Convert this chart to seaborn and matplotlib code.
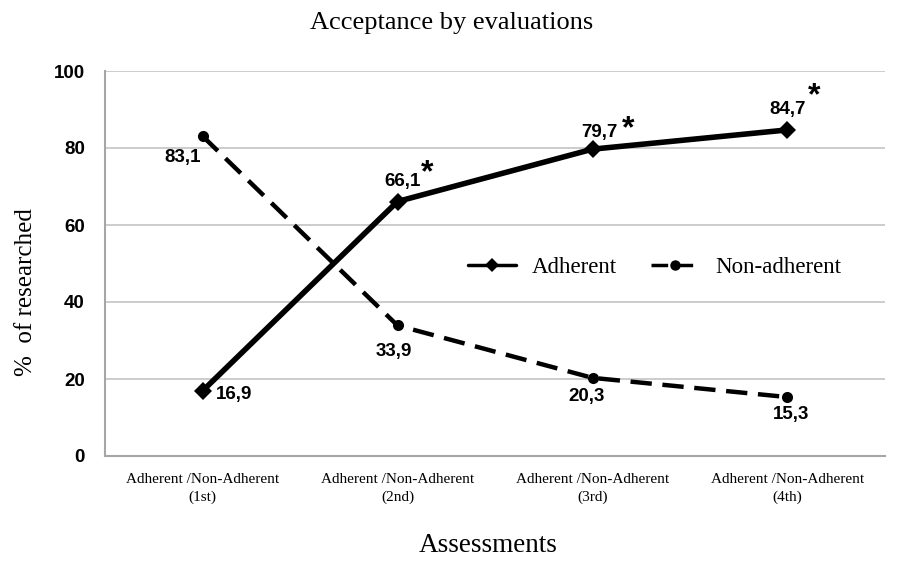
import pandas as pd
import seaborn as sns
import matplotlib.pyplot as plt


# -----------------------------
# DATA
# -----------------------------
assessments = [
    "Adherent /Non-Adherent\n(1st)",
    "Adherent /Non-Adherent\n(2nd)",
    "Adherent /Non-Adherent\n(3rd)",
    "Adherent /Non-Adherent\n(4th)",
]
adherent = [16.9, 66.1, 79.7, 84.7]
non_adherent = [83.1, 33.9, 20.3, 15.3]
significant = [False, True, True, True]

df = pd.DataFrame({
    "assessment": assessments * 2,
    "pct": adherent + non_adherent,
    "group": ["Adherent"] * 4 + ["Non-adherent"] * 4,
})

SERIF = "Liberation Serif"
SANS = "Liberation Sans"

# -----------------------------
# FIGURE
# -----------------------------
sns.set_style("white")
plt.rcParams["font.family"] = [SANS, "DejaVu Sans"]
plt.rcParams["text.color"] = "black"

fig = plt.figure(figsize=(9.07, 5.61), dpi=100)
ax = fig.add_axes([105 / 907, 1 - 456 / 561, 780 / 907, 385 / 561])

sns.lineplot(data=df[df.group == "Adherent"], x="assessment", y="pct",
             color="black", linewidth=4, marker="D", markersize=9,
             markeredgewidth=0, sort=False, label="Adherent", ax=ax)
sns.lineplot(data=df[df.group == "Non-adherent"], x="assessment", y="pct",
             color="black", linewidth=3.2, marker="o", markersize=8,
             markeredgewidth=0, sort=False, label="Non-adherent",
             dashes=False, ax=ax)
ax.lines[1].set_dashes((4.8, 2.4))
ax.lines[1].set_dash_capstyle("butt")

# axes styling
ax.set_xlim(-0.5, 3.5)
ax.set_ylim(0, 100)
ax.set_yticks(range(0, 101, 20))
ax.yaxis.grid(True, color="#c4c4c4", linewidth=1.2)
ax.set_axisbelow(True)
for side in ["top", "right"]:
    ax.spines[side].set_visible(False)
for side in ["left", "bottom"]:
    ax.spines[side].set_color("#a6a6a6")
    ax.spines[side].set_linewidth(1.5)

ax.tick_params(axis="y", length=4.5, width=1.2, color="#a6a6a6", pad=10,
               labelsize=13.5, labelcolor="black")
for lab in ax.get_yticklabels():
    lab.set_fontweight("bold")

ax.set_xticks(range(len(assessments)))
ax.set_xticklabels(assessments, fontfamily=SERIF, fontsize=11,
                   linespacing=1.45)
ax.set_xticks([i - 0.5 for i in range(len(assessments) + 1)], minor=True)
ax.tick_params(axis="x", which="major", length=0, pad=12,
               labelcolor="black")
ax.tick_params(axis="x", which="minor", length=3.5, width=1.2,
               color="#a6a6a6")
ax.set_xlabel("")
ax.set_ylabel("")

# -----------------------------
# DATA LABELS
# -----------------------------
adh_offsets = [(32, -4), (5, 20), (7, 17), (0, 20)]
star_offsets = [None, (30, 28), (36, 20), (27, 34)]
non_offsets = [(-20, -21), (-4, -26), (-6, -19), (4, -17)]

for i, v in enumerate(adherent):
    ax.annotate(f"{v:.1f}".replace(".", ","), (i, v),
                xytext=adh_offsets[i], textcoords="offset pixels",
                ha="center", va="center", fontsize=13.5, fontweight="bold")
    if significant[i]:
        ax.annotate("*", (i, v), xytext=star_offsets[i],
                    textcoords="offset pixels", ha="center", va="center",
                    fontsize=23, fontweight="bold")

for i, v in enumerate(non_adherent):
    ax.annotate(f"{v:.1f}".replace(".", ","), (i, v),
                xytext=non_offsets[i], textcoords="offset pixels",
                ha="center", va="center", fontsize=13.5, fontweight="bold")

# -----------------------------
# LEGEND + TEXT
# -----------------------------
leg = ax.legend(loc="center left", bbox_to_anchor=(0.465, 0.49), ncol=2,
                frameon=False, borderpad=0, borderaxespad=0,
                handlelength=2.1, handletextpad=0.7, columnspacing=1.5,
                numpoints=1, prop={"family": SERIF, "size": 16.5})
for h in leg.get_lines():
    h.set_linewidth(2.5)
    h.set_markersize(7.5)
for t in leg.get_texts():
    t.set_color("black")

fig.text(452 / 907, 1 - 23 / 561, "Acceptance by evaluations",
         ha="center", va="center", fontfamily=SERIF, fontsize=19)
fig.text(26 / 907, 1 - 292 / 561, "%  of researched", rotation=90,
         ha="center", va="center", fontfamily=SERIF, fontsize=18)
fig.text(488 / 907, 1 - 545 / 561, "Assessments",
         ha="center", va="center", fontfamily=SERIF, fontsize=19.5)

fig.savefig("out.png", dpi=100)
